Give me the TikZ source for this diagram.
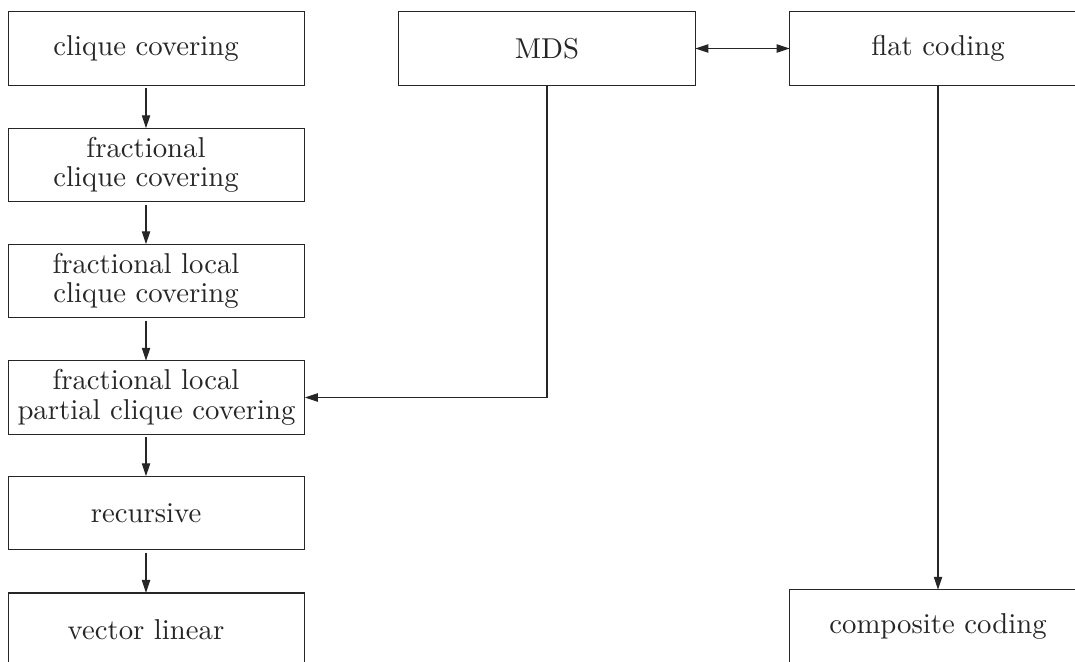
\documentclass[tikz,border=0pt]{standalone}
\usetikzlibrary{arrows.meta}
\begin{document}
\begin{tikzpicture}[x=0.348pt,y=-0.348pt,
  box/.style={draw=black!85,line width=0.4pt,minimum width=103.3pt,minimum height=25.6pt,
    inner sep=0pt,outer sep=0pt,align=center,font=\fontsize{10}{10.3}\selectfont,text=black!85},
  arr/.style={draw=black!85,line width=0.4pt,-{Triangle[length=4.5pt,width=2.9pt]}},
  darr/.style={draw=black!85,line width=0.4pt,{Triangle[length=4.5pt,width=2.9pt]}-{Triangle[length=4.5pt,width=2.9pt]}}]
\useasboundingbox (0,0) rectangle (1075,662);
\clip (0,0) rectangle (1075,662);
\def\sh{\hspace*{7.3pt}}
\node[box] (b1) at (156.5,48.5) {clique covering\sh};
\node[box] (b2) at (156.5,165) {fractional\sh\\clique covering\sh};
\node[box] (b3) at (156.5,281) {fractional local\sh\\clique covering\sh};
\node[box] (b4) at (156.5,397.5) {fractional local\sh\\partial clique covering};
\node[box] (b5) at (156.5,513) {recursive\sh};
\node[box] (b6) at (156.5,629.7) {vector linear\sh};
\node[box] (mds) at (547,48.5) {MDS};
\node[box] (flat) at (938,48.5) {flat coding};
\node[box] (comp) at (938,626.5) {composite coding};
\draw[arr] ([xshift=-3.65pt,yshift=-1pt]b1.south) -- ([xshift=-3.65pt]b2.north);
\draw[arr] ([xshift=-3.65pt,yshift=-1pt]b2.south) -- ([xshift=-3.65pt]b3.north);
\draw[arr] ([xshift=-3.65pt,yshift=-1pt]b3.south) -- ([xshift=-3.65pt]b4.north);
\draw[arr] ([xshift=-3.65pt,yshift=-1pt]b4.south) -- ([xshift=-3.65pt]b5.north);
\draw[arr] ([xshift=-3.65pt,yshift=-1pt]b5.south) -- ([xshift=-3.65pt]b6.north);
\draw[darr] (mds.east) -- (flat.west);
\draw[arr] (mds.south) |- (b4.east);
\draw[arr] (flat.south) -- (comp.north);
\end{tikzpicture}
\end{document}
